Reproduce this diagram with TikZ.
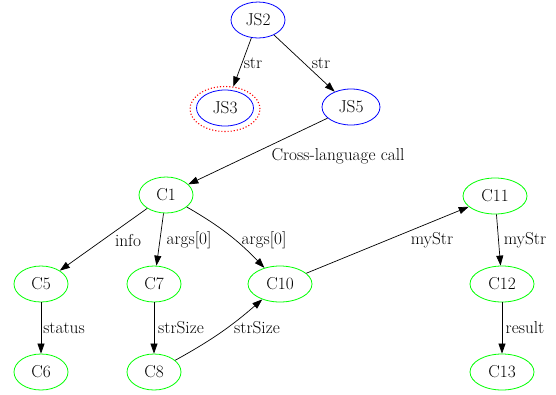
\documentclass[tikz,border=0pt]{standalone}
\usetikzlibrary{arrows.meta,shapes.geometric}
\begin{document}
\begin{tikzpicture}[x=1pt,y=-1pt,
  font=\fontsize{17.3}{20}\selectfont,
  nd/.style={ellipse,draw,line width=0.8pt,minimum height=36pt,minimum width=54pt,inner sep=0pt},
  js/.style={nd,draw=blue},
  cn/.style={nd,draw={rgb,255:red,0;green,255;blue,0}},
  wide/.style={minimum width=64pt},
  arr/.style={-{Triangle[length=10pt,width=7pt]},line width=0.7pt},
  lbl/.style={inner sep=0pt}]
\useasboundingbox (0,0) rectangle (556,394);
\node[js] (JS2) at (258,20) {JS2};
\node[js,minimum width=57pt] (JS3) at (225,108) {JS3};
\node[ellipse,draw=red,dotted,line width=1.1pt,minimum width=70pt,minimum height=45pt] (JS3o) at (225,109) {};
\node[js,minimum width=58pt] (JS5) at (351,107) {JS5};
\node[cn] (C1) at (166,195) {C1};
\node[cn] (C5) at (41,284) {C5};
\node[cn] (C7) at (154,284) {C7};
\node[cn,wide] (C10) at (280,284) {C10};
\node[cn] (C6) at (41,372) {C6};
\node[cn] (C8) at (154,372) {C8};
\node[cn,wide] (C11) at (495,196) {C11};
\node[cn,wide] (C12) at (502,284) {C12};
\node[cn,wide] (C13) at (502,372) {C13};

\draw[arr] (JS2) -- (JS3o);
\draw[arr] (JS2) -- (JS5);
\draw[arr] (JS5) -- (C1);
\draw[arr] (C1) -- (C5);
\draw[arr] (C1) -- (C7);
\draw[arr] (C1) to[bend left=8] (C10);
\draw[arr] (C5) -- (C6);
\draw[arr] (C7) -- (C8);
\draw[arr] (C8) to[bend right=6] (C10);
\draw[arr] (C10) -- (C11);
\draw[arr] (C11) -- (C12);
\draw[arr] (C12) -- (C13);

\node[lbl] (l1) at (253,63) {str};
\node[lbl] (l2) at (321,63) {str};
\node[lbl] (l3) at (338,156) {Cross-language call};
\node[lbl] (l4) at (128,240) {info};
\node[lbl] (l5) at (189,240) {args[0]};
\node[lbl] (l6) at (264,240) {args[0]};
\node[lbl] (l7) at (432,240) {myStr};
\node[lbl] (l8) at (525,240) {myStr};
\node[lbl] (l9) at (64,328) {status};
\node[lbl] (l10) at (181,328) {strSize};
\node[lbl] (l11) at (257,328) {strSize};
\node[lbl] (l12) at (525,328) {result};
\end{tikzpicture}
\end{document}
